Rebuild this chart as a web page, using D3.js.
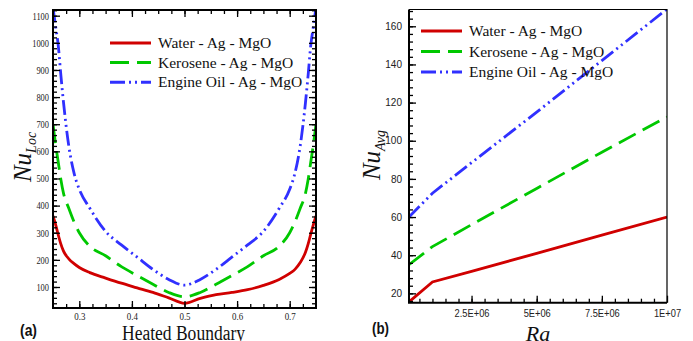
<!DOCTYPE html>
<html>
<head>
<meta charset="utf-8">
<script src="https://cdn.jsdelivr.net/npm/d3@7"></script>
<style>
  body { margin: 0; background: #fff; }
  svg { display: block; }
</style>
</head>
<body>
<div id="chart"></div>
<script>
// ---- data ----
const seriesNames = ["Water - Ag - MgO", "Kerosene - Ag - MgO", "Engine Oil - Ag - MgO"];
const seriesColors = ["#d00000", "#00c800", "#3030ff"];
const seriesDash = [null, "19,8", "15,4,2,4,2,4"];

// (a) local Nusselt number along the heated boundary
const locX = [0.25, 0.255, 0.26, 0.265, 0.27, 0.28, 0.29, 0.30, 0.32, 0.35, 0.38, 0.41, 0.44, 0.47, 0.50,
              0.53, 0.56, 0.59, 0.62, 0.65, 0.68, 0.70, 0.71, 0.72, 0.73, 0.735, 0.74, 0.745, 0.75];
const waterLoc = [362, 330, 292, 258, 232, 204, 186, 172, 153, 133, 114, 97, 80, 60, 40,
                  58, 72, 80, 90, 106, 128, 150, 165, 190, 228, 258, 295, 330, 362];
const keroLoc = [700, 625, 560, 495, 445, 390, 340, 300, 250, 215, 175, 142, 110, 80, 64,
                 80, 110, 142, 175, 215, 250, 300, 340, 390, 445, 495, 560, 625, 700];
const oilLoc = [1130, 1060, 990, 880, 780, 620, 520, 460, 390, 305, 255, 210, 165, 128, 107,
                128, 165, 210, 255, 305, 390, 460, 520, 620, 780, 880, 990, 1060, 1130];
const locXTicks = [0.3, 0.4, 0.5, 0.6, 0.7];
const locYTicks = [100, 200, 300, 400, 500, 600, 700, 800, 900, 1000, 1100];

// (b) average Nusselt number vs Rayleigh number
const raX = [1e5, 1e6, 2.5e6, 5e6, 7.5e6, 1e7];
const waterAvg = [15.5, 26, 31.5, 41, 50.5, 60];
const keroAvg = [35, 44.5, 56, 75, 94, 112.5];
const oilAvg = [60, 72.5, 88.5, 115, 142, 169];
const raXTicks = [2.5e6, 5e6, 7.5e6, 1e7];
const raXLabels = ["2.5E+06", "5E+06", "7.5E+06", "1E+07"];
const avgYTicks = [20, 40, 60, 80, 100, 120, 140, 160];

const W = 693, H = 341;
const SERIF = "'Liberation Serif', 'Times New Roman', serif";
const SANS = "'Liberation Sans', Arial, sans-serif";

const svg = d3.select("#chart").append("svg")
    .attr("width", W).attr("height", H);

// ---- panel (a) ----
const xa = d3.scaleLinear().domain([0.25, 0.75]).range([53, 316]);
const ya = d3.scaleLinear().domain([22.6, 1121]).range([308, 10]);

svg.append("clipPath").attr("id", "clipA").append("rect")
    .attr("x", 53).attr("y", 10).attr("width", 263).attr("height", 298);

const gA = svg.append("g");
const lineA = vals => d3.line()
    .x((d, i) => xa(locX[i]))
    .y(d => ya(d))
    .curve(d3.curveMonotoneX)(vals);

[waterLoc, keroLoc, oilLoc].forEach((vals, k) => {
  gA.append("path")
    .attr("clip-path", "url(#clipA)")
    .attr("d", lineA(vals))
    .attr("fill", "none")
    .attr("stroke", seriesColors[k])
    .attr("stroke-width", 2.8)
    .attr("stroke-dasharray", seriesDash[k]);
});

function styleAxis(font, size) {
  return g => {
    g.attr("font-family", font).attr("font-size", size);
    g.select(".domain").remove();
    g.selectAll("line").attr("stroke", "#000").attr("stroke-width", 1.3);
    g.selectAll("text").attr("fill", "#222");
  };
}
const styleSerif = styleAxis(SERIF, 10.5);
const styleSans = styleAxis(SANS, 10);

const minorLocX = d3.range(0.275, 0.75, 0.025);
const minorLocY = d3.range(40, 1121, 20);

// bottom axis + minor
svg.append("g").attr("transform", "translate(0,308)")
  .call(d3.axisBottom(xa).tickValues(locXTicks).tickSize(-7).tickPadding(5).tickFormat(d3.format(".1f")))
  .call(styleSerif)
  .selectAll("text").attr("transform", "scale(0.85,1)");
svg.append("g").attr("transform", "translate(0,308)")
  .call(d3.axisBottom(xa).tickValues(minorLocX).tickSize(-4).tickFormat(""))
  .call(styleSerif);
// top ticks
svg.append("g").attr("transform", "translate(0,10)")
  .call(d3.axisTop(xa).tickValues(locXTicks).tickSize(-7).tickFormat(""))
  .call(styleSerif);
svg.append("g").attr("transform", "translate(0,10)")
  .call(d3.axisTop(xa).tickValues(minorLocX).tickSize(-4).tickFormat(""))
  .call(styleSerif);
// left axis + minor
svg.append("g").attr("transform", "translate(53,0)")
  .call(d3.axisLeft(ya).tickValues(locYTicks).tickSize(-7).tickPadding(5).tickFormat(d3.format("d")))
  .call(styleSerif)
  .selectAll("text").attr("transform", "scale(0.8,1)");
svg.append("g").attr("transform", "translate(53,0)")
  .call(d3.axisLeft(ya).tickValues(minorLocY).tickSize(-4).tickFormat(""))
  .call(styleSerif);
// right ticks
svg.append("g").attr("transform", "translate(316,0)")
  .call(d3.axisRight(ya).tickValues(locYTicks).tickSize(-7).tickFormat(""))
  .call(styleSerif);
svg.append("g").attr("transform", "translate(316,0)")
  .call(d3.axisRight(ya).tickValues(minorLocY).tickSize(-4).tickFormat(""))
  .call(styleSerif);

gA.append("rect")
  .attr("x", 53).attr("y", 10).attr("width", 263).attr("height", 298)
  .attr("fill", "none").attr("stroke", "#000").attr("stroke-width", 2);

// ---- panel (b) ----
const xb = d3.scaleLinear().domain([1e5, 1e7]).range([409, 667]);
const yb = d3.scaleLinear().domain([15.1, 168.8]).range([302.7, 9.5]);

svg.append("clipPath").attr("id", "clipB").append("rect")
    .attr("x", 409).attr("y", 9.5).attr("width", 258).attr("height", 293.2);

const gB = svg.append("g");
const lineB = vals => d3.line()
    .x((d, i) => xb(raX[i]))
    .y(d => yb(d))(vals);

[waterAvg, keroAvg, oilAvg].forEach((vals, k) => {
  gB.append("path")
    .attr("clip-path", "url(#clipB)")
    .attr("d", lineB(vals))
    .attr("fill", "none")
    .attr("stroke", seriesColors[k])
    .attr("stroke-width", 2.8)
    .attr("stroke-dasharray", seriesDash[k]);
});

svg.append("g").attr("transform", "translate(0,302.7)")
  .call(d3.axisBottom(xb).tickValues(raXTicks).tickSize(-7).tickPadding(7)
        .tickFormat((d, i) => raXLabels[i]))
  .call(styleSans)
  .selectAll("text").attr("transform", "scale(0.93,1)");
svg.append("g").attr("transform", "translate(0,302.7)")
  .call(d3.axisBottom(xb).tickValues(d3.range(5e5, 1e7, 5e5)).tickSize(-4).tickFormat(""))
  .call(styleSans);
svg.append("g").attr("transform", "translate(409,0)")
  .call(d3.axisLeft(yb).tickValues(avgYTicks).tickSize(-7).tickPadding(7))
  .call(styleSans);
svg.append("g").attr("transform", "translate(409,0)")
  .call(d3.axisLeft(yb).tickValues(d3.range(16, 169, 4)).tickSize(-4).tickFormat(""))
  .call(styleSans);

// frame: heavy left/bottom, thin top/right
gB.append("path")
  .attr("d", "M667,302.7V9.5H409")
  .attr("fill", "none").attr("stroke", "#000").attr("stroke-width", 1.2);
gB.append("path")
  .attr("d", "M409,9.5V302.7H667")
  .attr("fill", "none").attr("stroke", "#000").attr("stroke-width", 2);

// ---- legends ----
function legend(x0, y0, step) {
  const g = svg.append("g");
  seriesNames.forEach((name, k) => {
    const y = y0 + k * step;
    g.append("line")
      .attr("x1", x0).attr("x2", x0 + 41).attr("y1", y).attr("y2", y)
      .attr("stroke", seriesColors[k]).attr("stroke-width", 3)
      .attr("stroke-dasharray", seriesDash[k]);
    g.append("text")
      .attr("x", x0 + 48).attr("y", y + 5)
      .attr("font-family", SERIF)
      .attr("font-size", 15.5)
      .attr("fill", "#111")
      .text(name);
  });
}
legend(110, 43, 19.6);
legend(421, 31, 20.5);

// ---- axis titles ----
function nuLabel(x, y, sub) {
  const t = svg.append("text")
    .attr("transform", `translate(${x},${y}) rotate(-90)`)
    .attr("text-anchor", "middle")
    .attr("font-family", SERIF)
    .attr("font-style", "italic")
    .attr("fill", "#111");
  t.append("tspan").attr("font-size", 25).text("Nu");
  t.append("tspan").attr("font-size", 14).attr("dy", 5).text(sub);
}
nuLabel(31, 157, "Loc");
nuLabel(380, 155, "Avg");

svg.append("text")
  .attr("x", 183.5).attr("y", 340)
  .attr("text-anchor", "middle")
  .attr("font-family", SERIF)
  .attr("font-size", 20.5)
  .attr("textLength", 123).attr("lengthAdjust", "spacingAndGlyphs")
  .attr("fill", "#111")
  .text("Heated Boundary");

svg.append("text")
  .attr("x", 538).attr("y", 341)
  .attr("text-anchor", "middle")
  .attr("font-family", SERIF)
  .attr("font-style", "italic")
  .attr("font-size", 22)
  .attr("fill", "#111")
  .text("Ra");

[["(a)", 20, 336], ["(b)", 372, 334]].forEach(([s, x, y]) => {
  svg.append("text")
    .attr("x", x).attr("y", y)
    .attr("font-family", SANS)
    .attr("font-weight", "bold")
    .attr("font-size", 16)
    .attr("textLength", 17).attr("lengthAdjust", "spacingAndGlyphs")
    .attr("fill", "#111")
    .text(s);
});
</script>
</body>
</html>
